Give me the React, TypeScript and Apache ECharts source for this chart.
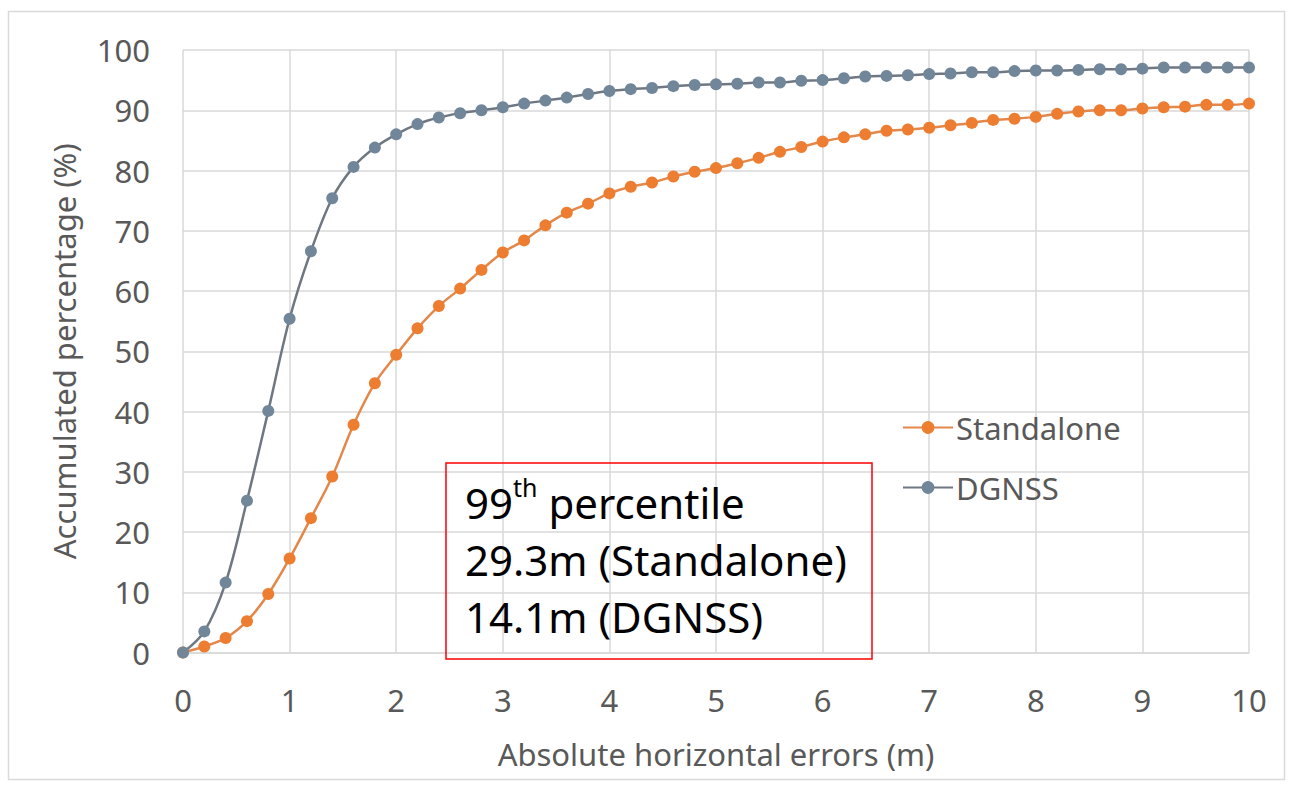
import React, { useEffect, useRef } from "react";
import * as echarts from "echarts";

const xValues = [0, 0.2, 0.4, 0.6, 0.8, 1, 1.2, 1.4, 1.6, 1.8, 2, 2.2, 2.4, 2.6, 2.8, 3, 3.2, 3.4, 3.6, 3.8, 4, 4.2, 4.4, 4.6, 4.8, 5, 5.2, 5.4, 5.6, 5.8, 6, 6.2, 6.4, 6.6, 6.8, 7, 7.2, 7.4, 7.6, 7.8, 8, 8.2, 8.4, 8.6, 8.8, 9, 9.2, 9.4, 9.6, 9.8, 10];

const standalone = [0, 1.0, 2.4, 5.2, 9.7, 15.6, 22.3, 29.2, 37.8, 44.7, 49.4, 53.8, 57.5, 60.4, 63.5, 66.4, 68.4, 70.9, 73.0, 74.5, 76.2, 77.3, 78.0, 79.0, 79.8, 80.4, 81.2, 82.1, 83.1, 83.9, 84.8, 85.5, 86.0, 86.6, 86.8, 87.1, 87.5, 87.9, 88.4, 88.6, 88.9, 89.4, 89.8, 90.0, 90.0, 90.3, 90.5, 90.6, 90.9, 90.9, 91.1];

const dgnss = [0, 3.5, 11.6, 25.2, 40.1, 55.4, 66.6, 75.4, 80.6, 83.8, 86.0, 87.7, 88.8, 89.5, 90.0, 90.5, 91.1, 91.6, 92.1, 92.7, 93.2, 93.5, 93.7, 94.0, 94.2, 94.3, 94.4, 94.6, 94.6, 94.9, 95.0, 95.3, 95.6, 95.7, 95.8, 96.0, 96.1, 96.3, 96.3, 96.5, 96.6, 96.6, 96.7, 96.8, 96.8, 96.9, 97.1, 97.1, 97.1, 97.1, 97.1];

const seriesNames = ["Standalone", "DGNSS"];
const noteLines = ["29.3m (Standalone)", "14.1m (DGNSS)"];

const FONT = "'Noto Sans', 'Open Sans', sans-serif";
const GREY_TEXT = "#595959";

export default function App() {
  const ref = useRef<HTMLDivElement>(null);

  useEffect(() => {
    if (!ref.current) return;
    const chart = echarts.init(ref.current, null, { renderer: "svg" });
    const pair = (ys: number[]) => xValues.map((x, i) => [x, ys[i]]);

    chart.setOption({
      animation: false,
      backgroundColor: "#ffffff",
      textStyle: { fontFamily: FONT },
      grid: { left: 183, right: 43, top: 50, bottom: 134.5, containLabel: false },
      xAxis: {
        type: "value",
        min: 0,
        max: 10,
        interval: 1,
        name: "Absolute horizontal errors (m)",
        nameLocation: "middle",
        nameGap: 86,
        nameTextStyle: { color: GREY_TEXT, fontSize: 31, fontFamily: FONT },
        axisLine: { show: true, lineStyle: { color: "#d9d9d9", width: 1.5 } },
        axisTick: { show: false },
        axisLabel: { color: GREY_TEXT, fontSize: 31, margin: 32, fontFamily: FONT },
        splitLine: { show: true, lineStyle: { color: "#d9d9d9", width: 1.5 } },
      },
      yAxis: {
        type: "value",
        min: 0,
        max: 100,
        interval: 10,
        name: "Accumulated percentage (%)",
        nameLocation: "middle",
        nameGap: 104,
        nameTextStyle: { color: GREY_TEXT, fontSize: 31, fontFamily: FONT },
        axisLine: { show: false },
        axisTick: { show: false },
        axisLabel: { color: GREY_TEXT, fontSize: 31, margin: 33, fontFamily: FONT },
        splitLine: { show: true, lineStyle: { color: "#d9d9d9", width: 1.5 } },
      },
      legend: {
        data: seriesNames,
        orient: "vertical",
        left: 897,
        top: 407,
        itemGap: 29,
        itemWidth: 50,
        itemHeight: 16,
        textStyle: { color: GREY_TEXT, fontSize: 31, fontFamily: FONT, padding: [0, 0, 0, -2] },
      },
      series: [
        {
          name: seriesNames[0],
          type: "line",
          smooth: 0.35,
          data: pair(standalone),
          symbol: "circle",
          symbolSize: 12,
          lineStyle: { color: "#e3874a", width: 2.5 },
          itemStyle: { color: "#ed7d31" },
          z: 2,
        },
        {
          name: seriesNames[1],
          type: "line",
          smooth: 0.35,
          data: pair(dgnss),
          symbol: "circle",
          symbolSize: 12,
          lineStyle: { color: "#6e7782", width: 2.5 },
          itemStyle: { color: "#72869a" },
          z: 3,
        },
      ],
      graphic: [
        {
          type: "rect",
          silent: true,
          shape: { x: 8.5, y: 11.5, width: 1276, height: 768 },
          style: { fill: "none", stroke: "#d9d9d9", lineWidth: 1.5 },
          z: -10,
        },
        {
          type: "rect",
          shape: { x: 446, y: 463, width: 426, height: 196 },
          style: { fill: "none", stroke: "#ff0000", lineWidth: 1.5 },
          z: 100,
        },
        {
          type: "text",
          x: 465,
          y: 474,
          z: 101,
          style: {
            text: "{a|99}{sup|th}{a| percentile}\n{a|" + noteLines[0] + "}\n{a|" + noteLines[1] + "}",
            fill: "#000000",
            fontFamily: FONT,
            rich: {
              a: { fontSize: 42, lineHeight: 57, fill: "#000000", fontFamily: FONT },
              sup: { fontSize: 25, lineHeight: 38, verticalAlign: "top", fill: "#000000", fontFamily: FONT },
            },
          },
        },
      ],
    });

    return () => chart.dispose();
  }, []);

  return (
    <div
      ref={ref}
      style={{ position: "fixed", left: 0, top: 0, width: 1292, height: 787, background: "#fff" }}
    />
  );
}
